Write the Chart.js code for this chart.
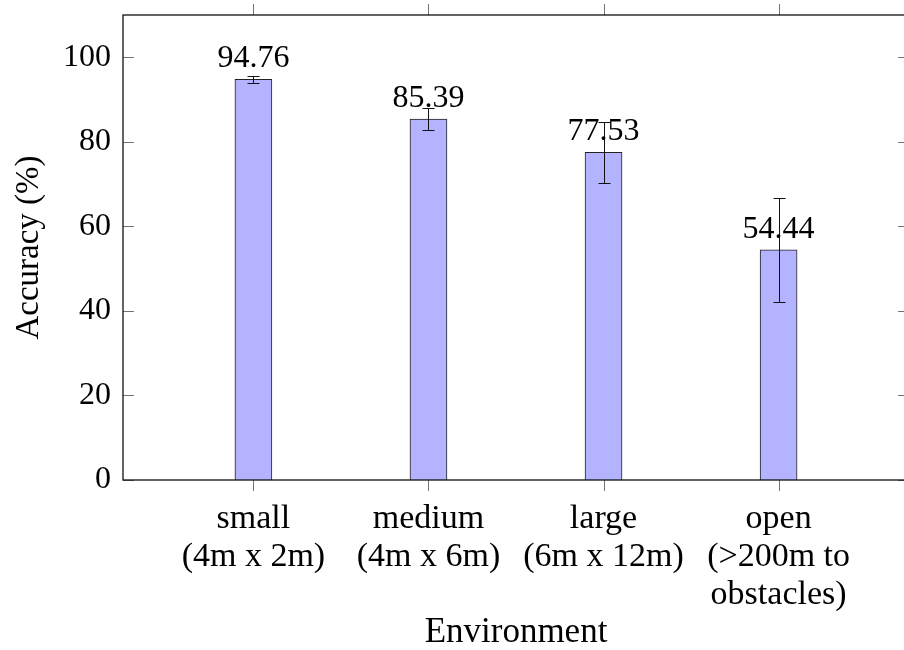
<!DOCTYPE html>
<html>
<head>
<meta charset="utf-8">
<script src="https://cdn.jsdelivr.net/npm/chart.js@4/dist/chart.umd.min.js"></script>
<style>
  html, body { margin: 0; padding: 0; background: #fff; overflow: hidden; }
  #wrap { width: 930px; height: 650px; }
</style>
</head>
<body>
<div id="wrap"><canvas id="accChart" width="930" height="650"></canvas></div>
<script>
    // Environment names and their sizes (second/third label lines)
    var envNames = ['small', 'medium', 'large', 'open'];
    var envSizes = [['(4m x 2m)'], ['(4m x 6m)'], ['(6m x 12m)'], ['(>200m to', 'obstacles)']];

    // Mean accuracy (%) and its spread (error bar half-length)
    var accuracy = [94.76, 85.39, 77.53, 54.44];
    var spread = [0.9, 2.6, 7.2, 12.3];

    // Y axis ticks
    var yTicks = [0, 20, 40, 60, 80, 100];

    var FONT = '"Liberation Serif", "DejaVu Serif", serif';

    // Frame, pgfplots-like tick marks, error bars and value labels
    var decorations = {
        id: 'decorations',
        afterDatasetsDraw: function (chart) {
            const ctx = chart.ctx;
            const a = chart.chartArea;
            const x = chart.scales.x, y = chart.scales.y;
            const meta = chart.getDatasetMeta(0);

            ctx.save();

            // error bars
            ctx.strokeStyle = '#111';
            ctx.lineWidth = 1;
            meta.data.forEach(function (bar, i) {
                const px = Math.round(bar.x) + 0.5;
                const hi = Math.round(y.getPixelForValue(accuracy[i] + spread[i])) + 0.5;
                const lo = Math.round(y.getPixelForValue(accuracy[i] - spread[i])) + 0.5;
                ctx.beginPath();
                ctx.moveTo(px, hi); ctx.lineTo(px, lo);
                ctx.moveTo(px - 6, hi); ctx.lineTo(px + 6, hi);
                ctx.moveTo(px - 6, lo); ctx.lineTo(px + 6, lo);
                ctx.stroke();
            });

            // tick marks: y inward, x outward
            ctx.strokeStyle = 'rgba(0,0,0,0.55)';
            ctx.lineWidth = 1;
            ctx.beginPath();
            y.ticks.forEach(function (t) {
                const py = Math.round(y.getPixelForValue(t.value)) + 0.5;
                ctx.moveTo(a.left, py); ctx.lineTo(a.left + 11, py);
                ctx.moveTo(a.right, py); ctx.lineTo(a.right - 11, py);
            });
            x.ticks.forEach(function (t) {
                const px = Math.round(x.getPixelForValue(t.value)) + 0.5;
                ctx.moveTo(px, a.top); ctx.lineTo(px, a.top - 11);
                ctx.moveTo(px, a.bottom); ctx.lineTo(px, a.bottom + 11);
            });
            ctx.stroke();

            // axis box
            ctx.strokeStyle = '#111';
            ctx.lineWidth = 1.3;
            ctx.strokeRect(a.left, a.top, a.right - a.left, a.bottom - a.top);

            // nodes near coords
            ctx.fillStyle = '#000';
            ctx.font = '32px ' + FONT;
            ctx.textAlign = 'center';
            ctx.textBaseline = 'alphabetic';
            meta.data.forEach(function (bar, i) {
                ctx.fillText(accuracy[i].toFixed(2), bar.x, bar.y - 12);
            });

            ctx.restore();
        }
    };

    var ctx1 = document.getElementById('accChart').getContext('2d');
    var accChart = new Chart(ctx1, {
        type: 'bar',
        data: {
            datasets: [{
                label: 'Accuracy',
                data: accuracy.map(function (v, i) { return { x: i, y: v }; }),
                backgroundColor: '#b3b3ff',
                borderColor: '#222',
                borderWidth: 1,
                barThickness: 37
            }]
        },
        options: {
            responsive: false,
            animation: false,
            layout: { padding: { top: 15, right: 21, bottom: 0, left: 0 } },
            plugins: {
                legend: { display: false },
                tooltip: { enabled: false }
            },
            scales: {
                x: {
                    type: 'linear',
                    offset: false,
                    min: -0.745,
                    max: 3.745,
                    grid: { display: false, drawTicks: false, offset: false },
                    border: { display: false },
                    afterBuildTicks: function (scale) {
                        scale.ticks = envNames.map(function (_, i) { return { value: i }; });
                    },
                    afterFit: function (scale) {
                        scale.height = 170;
                        scale.paddingLeft = 0;
                        scale.paddingRight = 0;
                    },
                    ticks: {
                        autoSkip: false,
                        maxRotation: 0,
                        padding: 20,
                        color: '#000',
                        font: { family: FONT, size: 34, lineHeight: 1.118 },
                        callback: function (value) {
                            return [envNames[value]].concat(envSizes[value]);
                        }
                    },
                    title: {
                        display: true,
                        text: 'Environment',
                        color: '#000',
                        padding: { top: 0, bottom: 0 },
                        font: { family: FONT, size: 35, lineHeight: 1 }
                    }
                },
                y: {
                    min: 0,
                    max: 110,
                    grid: { display: false, drawTicks: false },
                    border: { display: false },
                    afterBuildTicks: function (scale) {
                        scale.ticks = yTicks.map(function (v) { return { value: v }; });
                    },
                    afterFit: function (scale) {
                        scale.width = 123;
                        scale.paddingTop = 0;
                        scale.paddingBottom = 0;
                    },
                    ticks: {
                        padding: 12,
                        color: '#000',
                        font: { family: FONT, size: 32 }
                    },
                    title: {
                        display: true,
                        text: 'Accuracy (%)',
                        color: '#000',
                        padding: { top: 13, bottom: 0 },
                        font: { family: FONT, size: 33, lineHeight: 1 }
                    }
                }
            }
        },
        plugins: [decorations]
    });
</script>
</body>
</html>
